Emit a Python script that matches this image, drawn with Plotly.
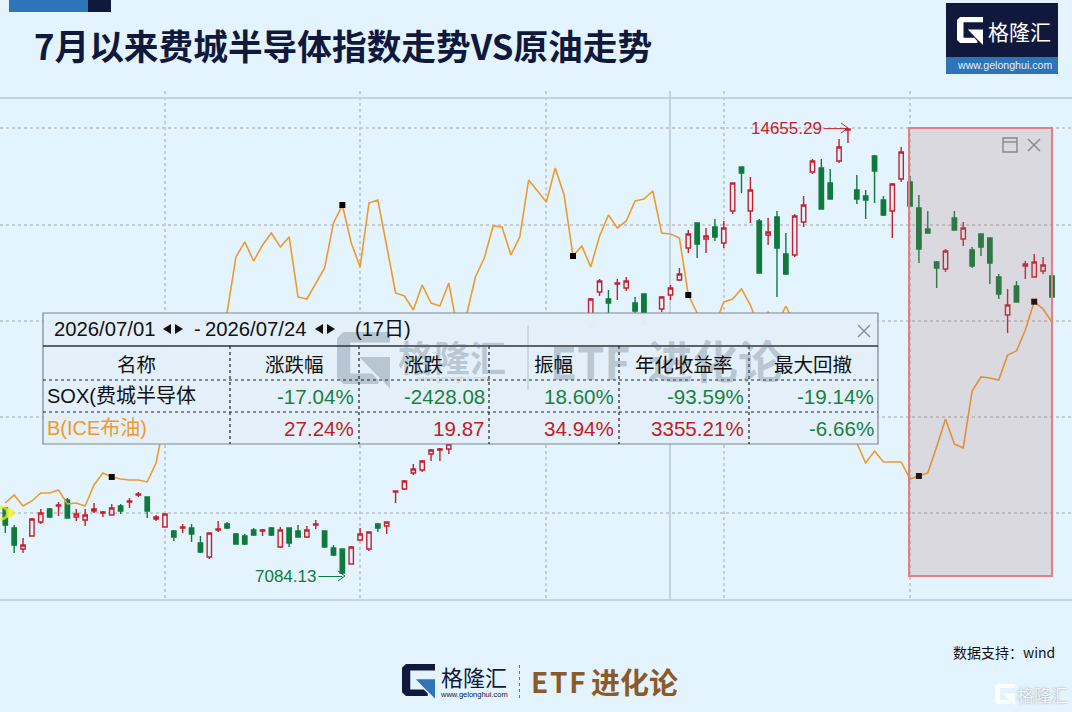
import plotly.graph_objects as go

# SOX candles, one slot per trading day, None where the floating table hides the day
sox_open = [8206, 7866, 7509, 7730, 7968, 8189, 8240, 8342, 8053, 8002,
            8155, 8121, 8087, 8240, 8308, 8427, 8393, 8019, 7883, 7815,
            7866, 7866, 7611, 7373, 7832, 7934, 7764, 7730, 7832, 7815,
            7866, 7543, 7866, 7815, 7713, 7917, 7815, 7526, 7509, 7254,
            7662, 7509, 7934, 7900, 8478, 8529, 8801, 8852, 9124, 9192,
            9209] + [None] * 15 + [11317, 11878, 11759, 12014,
            11946, 11691, 11844, None, 11589, 11827, 12082, 12626, 13051, 12779,
            12983, 12711, 13255, 14003, 13255, 13085, 12847, 13153, 12524, 12507,
            13068, 13918, 13986, 13731, 14105, 14632, 13612, 13510, 14190, 13442,
            13255, 13799, 13748, 13306, 12949, 12388, 12269, 13136, 12779, 12592,
            12864, 12796, 12133, 11487, 11980, 12320, 12133, 12235, 12150]
sox_high = [8206, 7917, 7696, 8036, 8189, 8206, 8308, 8376, 8189, 8189,
            8291, 8155, 8274, 8274, 8376, 8478, 8393, 8087, 8104, 7832,
            7934, 7934, 7730, 7781, 7985, 7968, 7781, 7764, 7866, 7849,
            7883, 7883, 7866, 7917, 7900, 8002, 7815, 7577, 7509, 7560,
            7866, 7798, 7951, 7968, 8495, 8682, 8954, 9022, 9209, 9226,
            9311] + [None] * 15 + [11776, 12099, 11912, 12099,
            12133, 11793, 11844, None, 11810, 11997, 12286, 12932, 13051, 12966,
            13119, 13085, 13731, 14003, 13833, 13119, 13136, 13255, 12881, 13204,
            13510, 14139, 14139, 13969, 14479, 14655.29, 13867, 13612, 14207, 13510,
            13731, 14343, 13850, 13527, 13255, 12405, 12609, 13255, 13068, 12643,
            12864, 12796, 12184, 11929, 12065, 12405, 12524, 12473, 12252]
sox_low = [7781, 7441, 7441, 7730, 7934, 8036, 8070, 8036, 7985, 7900,
           8121, 8053, 8087, 8104, 8206, 8393, 8036, 7985, 7883, 7645,
           7781, 7628, 7441, 7339, 7798, 7849, 7594, 7577, 7730, 7730,
           7730, 7526, 7543, 7713, 7696, 7849, 7526, 7390, 7084.13, 7254,
           7645, 7475, 7798, 7764, 8291, 8512, 8767, 8818, 9005, 9005,
           9124] + [None] * 15 + [11266, 11810, 11436, 11742,
           11895, 11436, 11317, None, 11538, 11742, 12065, 12541, 12456, 12541,
           12745, 12626, 13204, 13561, 13051, 12201, 12677, 11793, 12167, 12473,
           12983, 13884, 13289, 13459, 14071, 14411, 13374, 13119, 13391, 13170,
           12796, 13748, 13340, 12371, 12881, 11946, 12218, 12932, 12660, 12286,
           12490, 12014, 11759, 11181, 11708, 12099, 12133, 12184, 11708]
sox_close = [7917, 7577, 7577, 8019, 8121, 8053, 8257, 8036, 8104, 8087,
             8189, 8138, 8206, 8155, 8325, 8444, 8155, 8053, 8104, 7713,
             7883, 7764, 7458, 7781, 7849, 7866, 7594, 7594, 7747, 7832,
             7747, 7832, 7611, 7713, 7832, 7934, 7543, 7407, 7101, 7543,
             7764, 7798, 7866, 7968, 8495, 8665, 8869, 9005, 9192, 9209,
             9294] + [None] * 15 + [11759, 12065, 11691, 12031,
             12065, 11555, 11317, None, 11793, 11946, 12184, 12864, 12694, 12830,
             12813, 12966, 13731, 13901, 13612, 12201, 12898, 12626, 12184, 13170,
             13357, 14105, 13289, 13459, 14343, 14649, 13459, 13442, 13935, 13187,
             13714, 14258, 13340, 12609, 12881, 12286, 12575, 12932, 12966, 12320,
             12643, 12371, 11844, 11657, 11708, 12354, 12388, 12337, 11793]

# Brent close on its own hidden axis
brent = [69.86, 70.77, 69.52, 70.09, 71.00, 71.00, 71.34, 69.75, 69.86, 69.52,
         71.91, 73.28, 72.83, 72.60, 72.48, 72.48, 72.26, 74.42, 79.55,
         None, None, None, None, None, None,
         91.52, 97.91, 99.62, 97.45, 99.27, 100.64, 99.05, 100.19, 93.35, 93.12,
         94.94, 96.65, 101.78, 103.83, 99.50, 96.77, 104.06, 104.40, 99.16, 93.80,
         93.46, 91.86, 94.71, 92.66, 92.32, 94.94, 89.58, 91.29, 95.63, 97.79,
         101.44, 101.33, 98.13, 100.19, 106.68, 105.43, 104.18, 108.05, 104.97, 98.02,
         99.16, 96.77, 100.30, 102.69, 101.21, 102.01, 104.29, 104.52, 105.43, 100.64,
         100.53, 100.07, 93.57, 91.52, 88.44, 90.15, 92.78, 93.12, 94.26, 92.43,
         89.70, 91.64, 90.27, 92.32, 90.27,
         None, None, None, None, None, None,
         76.70, 74.42, 75.79, 74.54, 74.54, 74.54, 72.60, 72.94, 73.28, 76.25,
         79.44, 76.59, 76.13, 82.63, 84.23, 84.11, 83.88, 86.73, 87.19, 89.58,
         92.81, 91.98, 90.50]
brent_marks = [12, 38, 64, 77, 103, 116]

days = list(range(len(sox_open)))
grid_days = [18, 40, 61, 81, 102]
grid_prices = [14666, 13017, 11385, 9753, 8121]

table_names = ["SOX(费城半导体", "B(ICE布油)"]
table_head = ["名称", "涨跌幅", "涨跌", "振幅", "年化收益率", "最大回撤"]
table_sox = ["-17.04%", "-2428.08", "18.60%", "-93.59%", "-19.14%"]
table_brent = ["27.24%", "19.87", "34.94%", "3355.21%", "-6.66%"]
table_brent_colors = ["#c01c28", "#c01c28", "#c01c28", "#c01c28", "#1a8040"]

W, H = 1072, 712
BG = "#e4f4fe"
NAVY = "#10193b"
BLUE = "#2e74b8"
RED = "#c4202c"
GREEN = "#0f7a3c"
ORANGE = "#ee9a2c"
CJK = "Noto Sans CJK SC"
SANS = "Liberation Sans, Noto Sans CJK SC"


def px(x):
    return x / W


def py(y):
    return 1 - y / H


shapes = []
notes = []


def rect(x0, y0, x1, y1, fill="rgba(0,0,0,0)", line=None, lw=1, layer="above", dash=None):
    shapes.append(dict(type="rect", xref="paper", yref="paper", x0=px(x0), y0=py(y0), x1=px(x1), y1=py(y1),
                       fillcolor=fill, layer=layer,
                       line=dict(color=line or "rgba(0,0,0,0)", width=lw if line else 0, dash=dash)))


def seg(x0, y0, x1, y1, color, lw=1, dash=None, layer="above"):
    shapes.append(dict(type="line", xref="paper", yref="paper", x0=px(x0), y0=py(y0), x1=px(x1), y1=py(y1),
                       layer=layer, line=dict(color=color, width=lw, dash=dash)))


def poly(points, fill, layer="above"):
    d = "M" + " L".join(f"{px(a):.5f},{py(b):.5f}" for a, b in points) + " Z"
    shapes.append(dict(type="path", xref="paper", yref="paper", path=d, fillcolor=fill, layer=layer,
                       line=dict(width=0)))


def txt(x, y, s, size, color="#111", anchor="center", family=CJK, weight=400, shadow=None):
    font = dict(size=size, color=color, family=family, weight=weight)
    if shadow:
        font["shadow"] = shadow
    notes.append(dict(xref="paper", yref="paper", x=px(x), y=py(y), text=s, showarrow=False,
                      xanchor=anchor, yanchor="middle", borderpad=0, font=font))


def g_logo(x, y, w, h, color, accent=None):
    accent = accent or color
    pts = [(0.12, 0), (1, 0), (1, 0.2), (0.25, 0.2), (0.25, 0.8), (0.66, 0.8), (0.78, 0.92),
           (0.78, 1), (0.12, 1), (0, 0.88), (0, 0.12)]
    poly([(x + a * w, y + b * h) for a, b in pts], color)
    tri = [(0.42, 0.48), (1, 0.48), (1, 1.08), (0.72, 0.8)]
    poly([(x + a * w, y + b * h) for a, b in tri], accent)


fig = go.Figure()
fig.add_trace(go.Candlestick(x=days, open=sox_open, high=sox_high, low=sox_low, close=sox_close,
                             increasing=dict(line=dict(color=RED, width=1.4), fillcolor=BG),
                             decreasing=dict(line=dict(color=GREEN, width=1.4), fillcolor=GREEN),
                             whiskerwidth=0, hoverinfo="skip", showlegend=False))
fig.add_trace(go.Scatter(x=days, y=brent, yaxis="y2", mode="lines", connectgaps=True,
                         line=dict(color=ORANGE, width=1.6), hoverinfo="skip", showlegend=False))
fig.add_trace(go.Scatter(x=brent_marks, y=[brent[i] for i in brent_marks], yaxis="y2", mode="markers",
                         marker=dict(symbol="square", size=6, color="black"),
                         hoverinfo="skip", showlegend=False))
# yellow "start here" pointer on the left edge
fig.add_trace(go.Scatter(x=[-0.43, 0.55], y=[grid_prices[4], grid_prices[4]], mode="markers",
                         marker=dict(symbol=["circle-open", "triangle-right"], size=[12, 8], color="#f5f01e",
                                     line=dict(color="#f5f01e", width=3)),
                         hoverinfo="skip", showlegend=False))

# chart frame lines
seg(0, 98, W, 98, "#c6d4dd", 2, layer="below")
seg(0, 600, W, 600, "#c6d4dd", 2, layer="below")
seg(670, 91, 670, 600, "#b9c5cf", 1.4, layer="below")

# selected period box
rect(909, 128, 1052, 576, fill="rgba(173,109,99,0.2)", line="#e37f82", lw=2)
rect(1003, 138, 1017, 152, line="#85888d", lw=1.4)
seg(1003, 142, 1017, 142, "#85888d", 1.4)
seg(1028, 139, 1040, 151, "#85888d", 1.4)
seg(1040, 139, 1028, 151, "#85888d", 1.4)

# floating stats table
rect(43, 313, 878, 444, fill="rgba(227,240,249,0.98)", line="#7d8790", lw=1.2)
g_logo(337, 332, 53, 52, "rgba(90,110,130,0.32)")
txt(452, 356, "格隆汇", 36, "rgba(90,110,130,0.32)", weight=700)
txt(452, 378, "www.gelonghui.com", 8, "rgba(90,110,130,0.32)", family=SANS)
seg(528, 325, 528, 390, "rgba(90,110,130,0.25)", 1.5)
txt(590, 361, "ETF", 44, "rgba(90,110,130,0.32)", weight=700)
txt(715, 359, "进化论", 45, "rgba(90,110,130,0.32)", weight=700)

seg(43, 346, 878, 346, "#333", 1.6)
for row_y in [380, 412]:
    seg(43, row_y, 878, row_y, "#222", 1.1, dash="dot")
for col_x in [230, 359, 489, 619, 749]:
    seg(col_x, 346, col_x, 444, "#222", 1.2, dash="dot")
seg(858, 325, 870, 337, "#85888d", 1.3)
seg(870, 325, 858, 337, "#85888d", 1.3)

txt(53, 329, "2026/07/01", 20.3, "#111", "left", SANS)
txt(204, 329, "2026/07/24", 20.3, "#111", "left", SANS)
txt(193, 329, "-", 20, "#111", "left", SANS)
txt(354, 329, "(17日)", 20, "#111", "left", SANS)
for tx in [163, 315]:
    poly([(tx + 8, 324), (tx + 8, 334), (tx, 329)], "#111")
    poly([(tx + 12, 324), (tx + 12, 334), (tx + 20, 329)], "#111")

head_x = [136, 294, 423, 553, 684, 813]
right_x = [355, 486, 615, 745, 875]
for cx, label in zip(head_x, table_head):
    txt(cx, 363, label, 19.5, "#111")
txt(46, 396, table_names[0], 20, "#111", "left", SANS)
txt(46, 428, table_names[1], 20, ORANGE, "left", SANS)
for cx, v in zip(right_x, table_sox):
    txt(cx, 396, v, 20.6, "#1a8040", "right", SANS)
for cx, v, col in zip(right_x, table_brent, table_brent_colors):
    txt(cx, 428, v, 20.6, col, "right", SANS)

# extreme labels sit on the data, the arrow shaft comes from the annotation
notes.append(dict(x=days[95], y=max(h for h in sox_high if h), text="14655.29", showarrow=True, ax=-24, ay=0,
                  xanchor="right", yanchor="middle", arrowhead=0, arrowwidth=1, arrowcolor=RED,
                  font=dict(size=17, color=RED, family=SANS)))
notes.append(dict(x=days[38], y=min(l for l in sox_low if l), text="7084.13", showarrow=True, ax=-24, ay=0,
                  yshift=-2.5, xanchor="right", yanchor="middle", arrowhead=0, arrowwidth=1, arrowcolor=GREEN,
                  font=dict(size=17, color=GREEN, family=SANS)))
seg(841, 123, 848, 128, RED, 1)
seg(841, 133, 848, 128, RED, 1)
seg(338, 571, 345, 576, GREEN, 1)
seg(338, 581, 345, 576, GREEN, 1)

# header and footer
rect(9, 0, 88, 12, fill=BLUE, layer="below")
rect(88, 0, 111, 12, fill=NAVY, layer="below")
txt(33, 45, "7月以来费城半导体指数走势VS原油走势", 34.7, NAVY, "left", weight=700)

rect(946, 3, 1058, 57, fill=NAVY)
rect(946, 57, 1058, 74, fill=BLUE)
g_logo(957, 17, 26, 26, "white")
txt(1019, 31, "格隆汇", 21, "white", weight=400)
txt(1004, 65, "www.gelonghui.com", 10.6, "#e8eef6", family=SANS)

g_logo(402, 664, 33, 32, NAVY, BLUE)
txt(474, 676, "格隆汇", 22, NAVY, weight=400)
txt(474, 694, "www.gelonghui.com", 7.5, NAVY, family=SANS)
seg(519.5, 665, 519.5, 698, "#5a7aa8", 1, dash="dot")
txt(558, 681, "E\u200aT\u200aF", 28, "#8b5a2b", weight=700)
txt(634, 681, "进化论", 29, "#8b5a2b", weight=700)
txt(1056, 652, "数据支持：wind", 14, "#111", "right")

g_logo(995, 684, 20, 20, "rgba(255,255,255,0.9)")
txt(1042, 694, "格隆汇", 17, "#f4f7f9", weight=400, shadow="0 0 2px #8a8f94")

fig.update_layout(
    width=W, height=H, autosize=False,
    margin=dict(l=0, r=0, t=0, b=0, pad=0),
    paper_bgcolor=BG, plot_bgcolor=BG, showlegend=False,
    shapes=shapes, annotations=notes,
    boxgap=0.3,
    xaxis=dict(domain=[0, 1], range=[-0.5975, 120.26], rangeslider=dict(visible=False),
               tickmode="array", tickvals=grid_days, showticklabels=False, ticks="",
               showgrid=True, gridcolor="#c5ccd2", griddash="dot", gridwidth=1.5, zeroline=False, showline=False),
    yaxis=dict(domain=[py(600), py(91)], range=[6642, 15295],
               tickmode="array", tickvals=grid_prices, showticklabels=False, ticks="",
               showgrid=True, gridcolor="#c5ccd2", griddash="dot", gridwidth=1.5, zeroline=False, showline=False),
    yaxis2=dict(overlaying="y", side="right", range=[58.8, 116.83], showgrid=False, showticklabels=False,
                ticks="", zeroline=False, showline=False),
)

fig.write_html("out.html", config=dict(displayModeBar=False), post_script="document.body.style.margin='0';")
